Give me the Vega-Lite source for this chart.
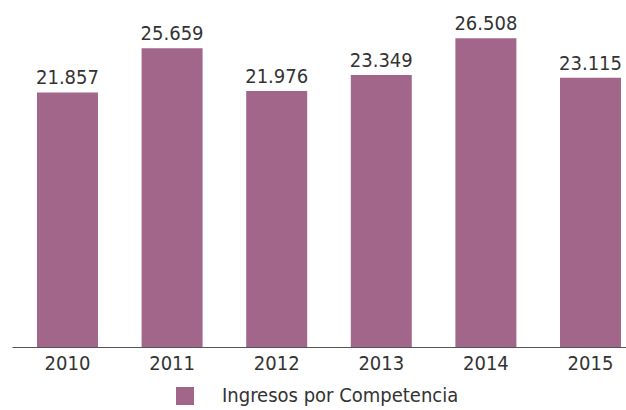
{
  "$schema": "https://vega.github.io/schema/vega-lite/v6.json",
  "autosize": {"type": "none"},
  "width": 614,
  "height": 347,
  "padding": {"left": 12, "top": 0, "right": 0, "bottom": 63},
  "background": "white",
  "config": {
    "view": {"stroke": null},
    "font": "DejaVu Sans Condensed",
    "axis": {"labelFont": "DejaVu Sans Condensed"},
    "legend": {"labelFont": "DejaVu Sans Condensed"}
  },
  "data": {
    "values": [
      {"year": "2010", "value": 21.857, "serie": "Ingresos por Competencia"},
      {"year": "2011", "value": 25.659, "serie": "Ingresos por Competencia"},
      {"year": "2012", "value": 21.976, "serie": "Ingresos por Competencia"},
      {"year": "2013", "value": 23.349, "serie": "Ingresos por Competencia"},
      {"year": "2014", "value": 26.508, "serie": "Ingresos por Competencia"},
      {"year": "2015", "value": 23.115, "serie": "Ingresos por Competencia"}
    ]
  },
  "encoding": {
    "x": {
      "field": "year",
      "type": "ordinal",
      "scale": {"paddingInner": 0.417, "paddingOuter": 0.1434, "align": 0.833},
      "axis": {
        "title": null,
        "labelAngle": 0,
        "ticks": false,
        "domainColor": "#555555",
        "domainWidth": 1,
        "labelFontSize": 20,
        "labelColor": "#333333",
        "labelPadding": 6
      }
    },
    "y": {
      "field": "value",
      "type": "quantitative",
      "scale": {"domain": [0, 29.8], "nice": false},
      "axis": null
    }
  },
  "layer": [
    {
      "mark": {"type": "bar", "color": "#a2668a"},
      "encoding": {
        "color": {
          "field": "serie",
          "type": "nominal",
          "scale": {"range": ["#a2668a"]},
          "legend": {
            "title": null,
            "orient": "none",
            "legendX": 163,
            "legendY": 386,
            "symbolType": "square",
            "symbolSize": 324,
            "symbolStrokeWidth": 0,
            "labelFontSize": 20,
            "labelColor": "#333333",
            "labelOffset": 27,
            "labelLimit": 400
          }
        }
      }
    },
    {
      "mark": {"type": "text", "baseline": "alphabetic", "dy": -8, "fontSize": 20, "color": "#333333"},
      "encoding": {
        "text": {"field": "value", "type": "quantitative", "format": ".3f"}
      }
    }
  ]
}
